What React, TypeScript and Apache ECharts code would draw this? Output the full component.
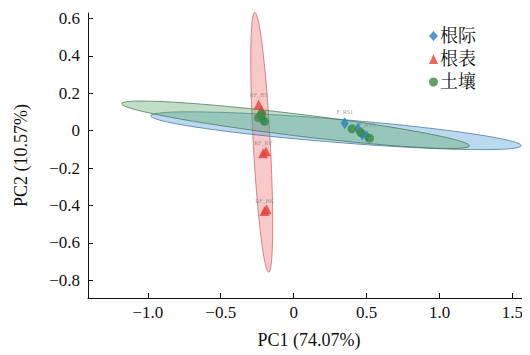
import React, { useEffect, useRef } from "react";
import * as echarts from "echarts";

// Scores (PC1, PC2)
const rhizospherePts: number[][] = [
  [0.35, 0.04], [0.44, 0.01], [0.47, -0.02], [0.50, -0.03], [-0.21, 0.06],
];
const rootSurfacePts: number[][] = [
  [-0.24, 0.14], [-0.22, 0.11], [-0.21, -0.12], [-0.19, -0.11], [-0.20, -0.43], [-0.185, -0.42],
];
const soilPts: number[][] = [
  [0.40, 0.01], [0.46, -0.01], [0.52, -0.04], [-0.22, 0.09], [-0.20, 0.05], [-0.24, 0.07],
];
const rhizosphereNames = ["F_RS1", "", "", "F_RS3", ""];
const rootSurfaceNames = ["RF_BS", "", "RF_RP", "", "RF_BK", ""];
const soilNames = ["", "", "", "", "", ""];

// Confidence ellipses: [centerX, centerY, majorDX, majorDY, minorDX, minorDY]
const rhizosphereEllipse = [0.29, 0.0, 1.27, -0.08, -0.006, -0.062];
const rootSurfaceEllipse = [-0.219, -0.062, -0.048, 0.695, 0.058, 0.004];
const soilEllipse = [0.013, 0.032, 1.192, -0.113, -0.008, -0.058];

const seriesNames = ["根际", "根表", "土壤"];
const xTicks = [-1.0, -0.5, 0, 0.5, 1.0, 1.5];
const yTicks = [0.6, 0.4, 0.2, 0, -0.2, -0.4, -0.6, -0.8];

const fmt = (v: number, d: number) => {
  if (Math.abs(v) < 1e-9) return "0";
  const s = Math.abs(v).toFixed(d);
  return v < 0 ? "\u2212" + s : s;
};

const serif = "Liberation Serif, Noto Serif CJK SC, Noto Sans CJK SC, serif";

function ellipseSeries(e: number[], fill: string, stroke: string, z: number) {
  return {
    type: "custom",
    z,
    silent: true,
    data: [e],
    renderItem: (params: any, api: any) => {
      const cx = api.value(0), cy = api.value(1);
      const ax = api.value(2), ay = api.value(3);
      const bx = api.value(4), by = api.value(5);
      const pts: number[][] = [];
      for (let i = 0; i < 120; i++) {
        const t = (i / 120) * Math.PI * 2;
        const c = Math.cos(t), s = Math.sin(t);
        pts.push(api.coord([cx + c * ax + s * bx, cy + c * ay + s * by]));
      }
      return {
        type: "polygon",
        shape: { points: pts },
        style: { fill, stroke, lineWidth: 1 },
      };
    },
  };
}

function pts(arr: number[][], names: string[]) {
  return arr.map((p, i) => ({
    value: p,
    label: {
      show: !!names[i],
      formatter: names[i],
      position: "top",
      distance: 2,
      fontSize: 6,
      color: "#888",
      fontFamily: serif,
    },
  }));
}

export default function App() {
  const ref = useRef<HTMLDivElement>(null);
  useEffect(() => {
    if (!ref.current) return;
    const chart = echarts.init(ref.current, undefined, { renderer: "svg" });
    chart.setOption({
      animation: false,
      backgroundColor: "#fff",
      textStyle: { fontFamily: serif },
      grid: { left: 88, top: 13, right: 0, bottom: 57 },
      legend: {
        orient: "vertical",
        left: 424,
        top: 22,
        itemGap: 5,
        itemWidth: 9,
        itemHeight: 10,
        textStyle: { fontSize: 18, color: "#111", fontFamily: serif, padding: [0, 0, 0, -3] },
        data: [
          { name: seriesNames[0], icon: "diamond" },
          { name: seriesNames[1], icon: "triangle" },
          { name: seriesNames[2], icon: "circle" },
        ],
      },
      xAxis: {
        type: "value",
        min: -1.41,
        max: 1.62,
        name: "PC1 (74.07%)",
        nameLocation: "middle",
        nameGap: 33,
        nameTextStyle: { fontSize: 18, color: "#111", fontFamily: serif },
        splitLine: { show: false },
        axisLine: { show: true, onZero: false, lineStyle: { color: "#111", width: 1 } },
        axisTick: { show: true, inside: true, length: 5, customValues: xTicks, lineStyle: { color: "#111" } },
        axisLabel: {
          customValues: xTicks,
          formatter: (v: number) => fmt(v, 1),
          fontSize: 17,
          color: "#111",
          fontFamily: serif,
          margin: 6,
        },
      },
      yAxis: {
        type: "value",
        min: -0.895,
        max: 0.63,
        name: "PC2 (10.57%)",
        nameLocation: "middle",
        nameGap: 58,
        nameTextStyle: { fontSize: 18, color: "#111", fontFamily: serif },
        splitLine: { show: false },
        axisLine: { show: true, onZero: false, lineStyle: { color: "#111", width: 1 } },
        axisTick: { show: true, inside: true, length: 5, customValues: yTicks, lineStyle: { color: "#111" } },
        axisLabel: {
          customValues: yTicks,
          formatter: (v: number) => fmt(v, 1),
          fontSize: 17,
          color: "#111",
          fontFamily: serif,
          margin: 8,
        },
      },
      series: [
        ellipseSeries(rootSurfaceEllipse, "rgba(240,125,125,0.42)", "rgba(200,90,90,0.7)", 1),
        ellipseSeries(rhizosphereEllipse, "rgba(80,160,215,0.4)", "rgba(70,115,160,0.75)", 2),
        ellipseSeries(soilEllipse, "rgba(100,170,110,0.4)", "rgba(70,110,80,0.7)", 3),
        {
          name: seriesNames[0],
          type: "scatter",
          symbol: "diamond",
          symbolSize: [8, 12],
          z: 5,
          itemStyle: { color: "#2a7fc0" },
          data: pts(rhizospherePts, rhizosphereNames),
        },
        {
          name: seriesNames[1],
          type: "scatter",
          symbol: "triangle",
          symbolSize: 10,
          z: 5,
          itemStyle: { color: "#e5403a" },
          data: pts(rootSurfacePts, rootSurfaceNames),
        },
        {
          name: seriesNames[2],
          type: "scatter",
          symbol: "circle",
          symbolSize: 9,
          z: 5,
          itemStyle: { color: "#3b8a43" },
          data: pts(soilPts, soilNames),
        },
      ],
    });
    return () => chart.dispose();
  }, []);
  return <div ref={ref} style={{ width: 530, height: 355, marginLeft: -8, marginTop: -8 }} />;
}
